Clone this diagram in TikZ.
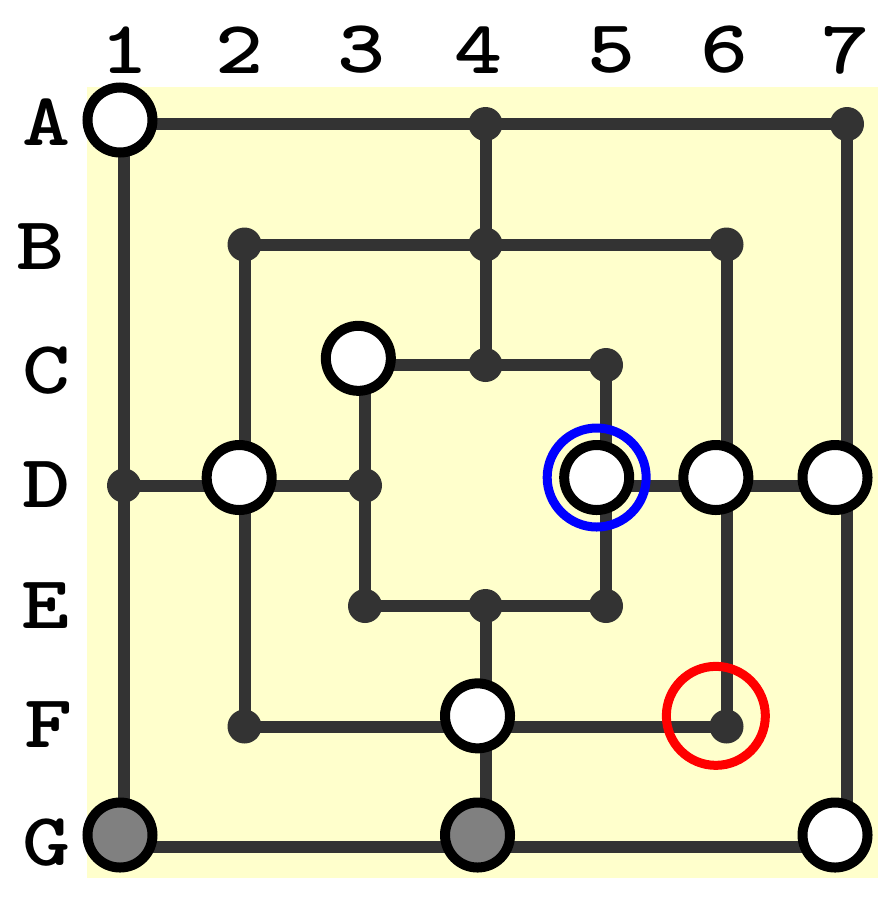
\documentclass[tikz,border=0pt]{standalone}
\usepackage{fontspec}
\usepackage{graphicx}
\definecolor{boardbg}{HTML}{FFFFCC}
\definecolor{linec}{HTML}{333333}
\definecolor{greyp}{HTML}{808080}
\newcommand{\widelbl}[1]{\scalebox{1.22}[1]{#1}}
\begin{document}
\begin{tikzpicture}[x=1pt,y=-1pt,
  boardline/.style={line width=12pt, draw=linec, line join=miter},
  dot/.style={circle, fill=linec, inner sep=0pt, minimum size=34pt},
  piece/.style={circle, draw=black, line width=10pt, fill=white, inner sep=0pt, minimum size=65pt},
  greypiece/.style={piece, fill=greyp},
  ring/.style={circle, line width=9pt, inner sep=0pt, minimum size=99pt},
  lab/.style={inner sep=0pt, font=\ttfamily\bfseries\fontsize{75}{75}\selectfont}
]
\useasboundingbox (0,0) rectangle (896,900);
\fill[boardbg] (87,87) rectangle (878,878);
\foreach \r [count=\j from 0] in {A,B,C,D,E,F,G} {
  \foreach \i in {1,...,7} {
    \coordinate (\r\i) at ({124+120.5*(\i-1)},{124+120.5*\j});
    \coordinate (p\r\i) at ({120+119.17*(\i-1)},{120+119.17*\j});
  }
}
% board lines
\draw[boardline] (A1) -- (A7) -- (G7) -- (G1) -- cycle;
\draw[boardline] (B2) -- (B6) -- (F6) -- (F2) -- cycle;
\draw[boardline] (C3) -- (C5) -- (E5) -- (E3) -- cycle;
\draw[boardline] (A4) -- (C4);
\draw[boardline] (D1) -- (D3);
\draw[boardline] (D5) -- (D7);
\draw[boardline] (E4) -- (G4);
% points
\foreach \p in {A1,A4,A7,B2,B4,B6,C3,C4,C5,D1,D2,D3,D5,D6,D7,E3,E4,E5,F2,F4,F6,G1,G4,G7}
  \node[dot] (d\p) at (\p) {};
% pieces
\foreach \p in {A1,C3,D2,D5,D6,D7,F4,G7}
  \node[piece] (w\p) at (p\p) {};
\foreach \p in {G1,G4}
  \node[greypiece] (g\p) at (p\p) {};
\node[ring, draw=blue] (selD5) at (pD5) {};
\node[ring, draw=red] (selF6) at (pF6) {};
% column labels
\node[lab] (c1) at (125,50) {\widelbl{1}};
\node[lab] (c2) at (240,50) {\widelbl{2}};
\node[lab] (c3) at (362,50) {\widelbl{3}};
\node[lab] (c4) at (479,50) {\widelbl{4}};
\node[lab] (c5) at (612,50) {\widelbl{5}};
\node[lab] (c6) at (725,50) {\widelbl{6}};
\node[lab] (c7) at (846,50) {\widelbl{7}};
% row labels
\node[lab] (rA) at (47,122) {\widelbl{A}};
\node[lab] (rB) at (41,247) {\widelbl{B}};
\node[lab] (rC) at (47,371) {\widelbl{C}};
\node[lab] (rD) at (47,485) {\widelbl{D}};
\node[lab] (rE) at (46,606) {\widelbl{E}};
\node[lab] (rF) at (49,725) {\widelbl{F}};
\node[lab] (rG) at (47,843) {\widelbl{G}};
\end{tikzpicture}
\end{document}
